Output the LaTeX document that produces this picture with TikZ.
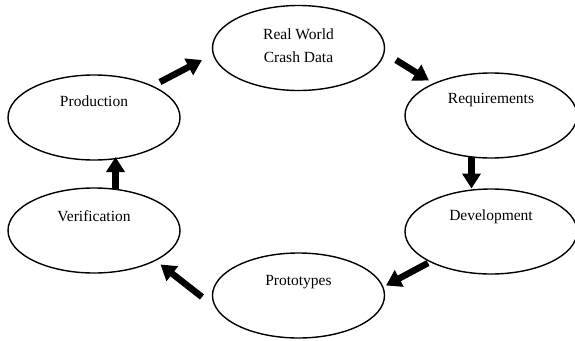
\documentclass[tikz,border=0pt]{standalone}
\usepackage{fontspec}
\setmainfont{Liberation Serif}
\usetikzlibrary{shapes.geometric,arrows.meta}
\begin{document}
\begin{tikzpicture}[x=1pt,y=-1pt,
  ell/.style={draw=black,line width=1.4pt,ellipse,minimum width=172pt,minimum height=85pt,inner sep=0pt},
  lbl/.style={font=\fontsize{15.5}{23}\selectfont,align=center,inner sep=0pt},
  arr/.style={line width=6.5pt,-{Triangle[width=18pt,length=15pt]}}]
\useasboundingbox (0,0) rectangle (575,340);
\node[ell] (real) at (298.5,48) {};
\node[ell] (prod) at (94,117.5) {};
\node[ell] (req) at (491,115.5) {};
\node[ell] (ver) at (94,230.5) {};
\node[ell] (dev) at (491,231.5) {};
\node[ell] (proto) at (298.5,295.5) {};
\node[lbl] (treal) at ([yshift=2.5pt]real.center) {Real World\\Crash Data};
\node[lbl] (tprod) at ([yshift=16pt]prod.center) {Production};
\node[lbl] (treq) at ([yshift=15pt]req.center) {Requirements};
\node[lbl] (tver) at ([yshift=14pt]ver.center) {Verification};
\node[lbl] (tdev) at ([yshift=14.5pt]dev.center) {Development};
\node[lbl] (tproto) at ([yshift=13.5pt]proto.center) {Prototypes};
\coordinate (a1s) at (160,82);
\coordinate (a1e) at (202,60);
\coordinate (a2s) at (396,60);
\coordinate (a2e) at (429,80.5);
\coordinate (a3s) at (471.5,157);
\coordinate (a3e) at (471.5,188.5);
\coordinate (a4s) at (428,263);
\coordinate (a4e) at (386,285.5);
\coordinate (a5s) at (202,297);
\coordinate (a5e) at (160.5,264.5);
\coordinate (a6s) at (115.5,189);
\coordinate (a6e) at (115.5,157);
\draw[arr] (a1s) -- (a1e);
\draw[arr] (a2s) -- (a2e);
\draw[arr] (a3s) -- (a3e);
\draw[arr] (a4s) -- (a4e);
\draw[arr] (a5s) -- (a5e);
\draw[arr] (a6s) -- (a6e);
\end{tikzpicture}
\end{document}
